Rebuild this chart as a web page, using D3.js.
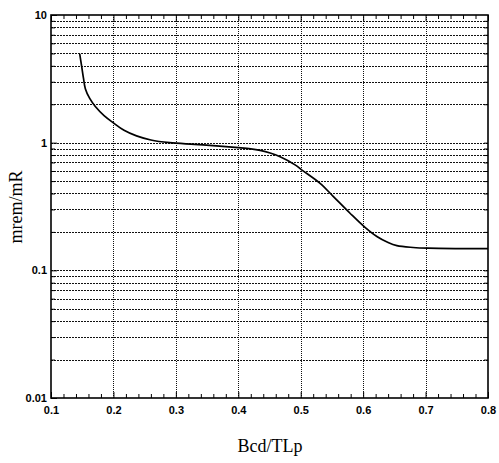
<!DOCTYPE html>
<html>
<head>
<meta charset="utf-8">
<script src="https://cdn.jsdelivr.net/npm/d3@7"></script>
<style>
  body { margin: 0; background: #fff; }
  svg { display: block; }
</style>
</head>
<body>
<div id="graph"></div>
<script>
// values
var ratio = [0.146, 0.149, 0.152, 0.155, 0.162, 0.171, 0.185, 0.200, 0.217, 0.237, 0.26, 0.29, 0.33, 0.37, 0.40, 0.42, 0.435, 0.451, 0.467, 0.491, 0.502, 0.531, 0.552, 0.579, 0.603, 0.622, 0.640, 0.654, 0.68, 0.704, 0.75, 0.80];
var dose = [4.95, 4.0, 3.2, 2.65, 2.22, 1.92, 1.63, 1.43, 1.25, 1.13, 1.05, 1.0, 0.97, 0.94, 0.915, 0.895, 0.87, 0.83, 0.775, 0.67, 0.61, 0.48, 0.38, 0.28, 0.217, 0.184, 0.165, 0.156, 0.151, 0.149, 0.148, 0.148];
var xTicks = [0.1, 0.2, 0.3, 0.4, 0.5, 0.6, 0.7, 0.8];
var yTicks = [0.01, 0.1, 1, 10];
var yLabels = ["0.01", "0.1", "1", "10"];

var W = 499, H = 463;
var margin = { top: 15, right: 11, bottom: 65, left: 51 };
var width = W - margin.left - margin.right,
  height = H - margin.top - margin.bottom;

var svg = d3.select("#graph").append("svg")
  .attr("width", W)
  .attr("height", H);

var g = svg.append("g")
  .attr("transform", "translate(" + margin.left + "," + margin.top + ")");

var x = d3.scaleLinear().domain([0.1, 0.8]).range([0, width]);
var y = d3.scaleLog().domain([0.01, 10]).range([height, 0]);

// minor positions
var xMinor = d3.range(0.12, 0.8, 0.02).filter(function(v) {
  return Math.abs(Math.round(v * 10) - v * 10) > 0.01;
});
var yMinor = [];
[0.01, 0.1, 1].forEach(function(dec) {
  for (var k = 2; k <= 9; k++) yMinor.push(dec * k);
});

// horizontal grid (every log step)
g.append("g").selectAll("line")
  .data(yMinor.concat([0.1, 1]))
  .enter().append("line")
  .attr("x1", 0).attr("x2", width)
  .attr("y1", function(d) { return Math.round(y(d)) + 0.5; })
  .attr("y2", function(d) { return Math.round(y(d)) + 0.5; })
  .attr("stroke", "#111")
  .attr("stroke-width", 1)
  .attr("stroke-dasharray", "2,1");

// vertical grid
g.append("g").selectAll("line")
  .data(xTicks.slice(1, -1))
  .enter().append("line")
  .attr("y1", 0).attr("y2", height)
  .attr("x1", function(d) { return Math.round(x(d)) + 0.5; })
  .attr("x2", function(d) { return Math.round(x(d)) + 0.5; })
  .attr("stroke", "#111")
  .attr("stroke-width", 1)
  .attr("stroke-dasharray", "1,1");

// bottom axis, ticks pointing inward
var xAxis = d3.axisBottom(x).tickValues(xTicks).tickSize(-6).tickFormat(d3.format(".1f"));
var xAxisMinor = d3.axisBottom(x).tickValues(xMinor).tickSize(-4).tickFormat("");
g.append("g").attr("transform", "translate(0," + height + ")").call(xAxis)
  .call(function(s) {
    s.select(".domain").remove();
    s.selectAll("text")
      .attr("dy", 0).attr("y", 16)
      .style("font-family", "Liberation Sans, Arial, sans-serif")
      .style("font-weight", "bold")
      .style("font-size", "11px")
      .attr("fill", "#000");
  });
g.append("g").attr("transform", "translate(0," + height + ")").call(xAxisMinor)
  .call(function(s) { s.select(".domain").remove(); });

// top ticks
g.append("g").call(d3.axisTop(x).tickValues(xTicks).tickSize(-6).tickFormat(""))
  .call(function(s) { s.select(".domain").remove(); });
g.append("g").call(d3.axisTop(x).tickValues(xMinor).tickSize(-4).tickFormat(""))
  .call(function(s) { s.select(".domain").remove(); });

// left axis
var yAxis = d3.axisLeft(y).tickValues(yTicks).tickSize(-6)
  .tickFormat(function(d, i) { return yLabels[i]; });
g.append("g").call(yAxis)
  .call(function(s) {
    s.select(".domain").remove();
    s.selectAll("text")
      .attr("x", -4)
      .style("font-family", "Liberation Sans, Arial, sans-serif")
      .style("font-weight", "bold")
      .style("font-size", "11px")
      .attr("fill", "#000");
  });
g.append("g").call(d3.axisLeft(y).tickValues(yMinor).tickSize(-4).tickFormat(""))
  .call(function(s) { s.select(".domain").remove(); });
g.append("g").attr("transform", "translate(" + width + ",0)")
  .call(d3.axisRight(y).tickValues(yMinor.concat([0.1, 1])).tickSize(-4).tickFormat(""))
  .call(function(s) { s.select(".domain").remove(); });

// frame
g.append("rect")
  .attr("width", width).attr("height", height)
  .attr("fill", "none")
  .attr("stroke", "#000")
  .attr("stroke-width", 1.6);

// curve
g.append("path")
  .datum(d3.zip(ratio, dose))
  .attr("fill", "none")
  .attr("stroke", "#000")
  .attr("stroke-width", 1.7)
  .attr("d", d3.line()
    .curve(d3.curveCatmullRom.alpha(0.5))
    .x(function(d) { return x(d[0]); })
    .y(function(d) { return y(d[1]); }));

// axis titles
svg.append("text")
  .attr("x", 270).attr("y", 452)
  .attr("text-anchor", "middle")
  .style("font-family", "Liberation Serif, Times New Roman, serif")
  .style("font-size", "18px")
  .text("Bcd/TLp");

svg.append("text")
  .attr("transform", "translate(22,207) rotate(-90)")
  .attr("text-anchor", "middle")
  .style("font-family", "Liberation Serif, Times New Roman, serif")
  .style("font-size", "18px")
  .text("mrem/mR");
</script>
</body>
</html>
